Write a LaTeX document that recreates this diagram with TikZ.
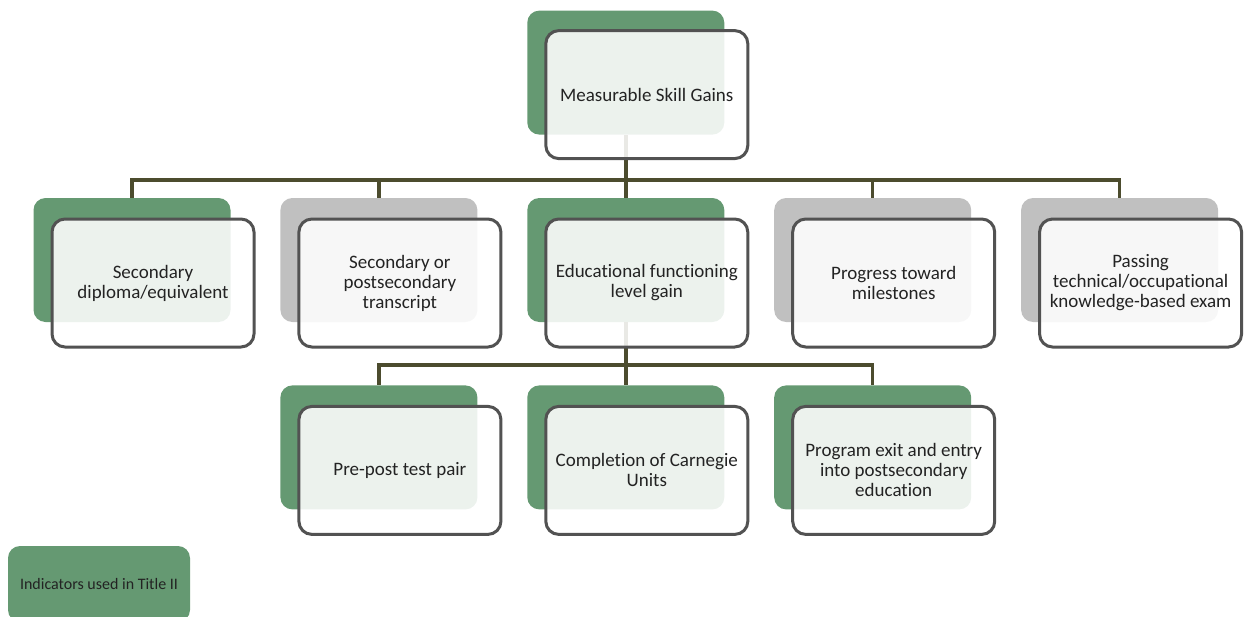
\documentclass[tikz,border=0pt]{standalone}
\usepackage{fontspec}
\setmainfont{Carlito}[Ligatures=CommonOff]
\usetikzlibrary{positioning}
\definecolor{msgreen}{RGB}{101,153,114}
\definecolor{msgray}{RGB}{192,192,192}
\definecolor{boxline}{RGB}{82,82,82}
\definecolor{linkcol}{RGB}{76,76,46}
\definecolor{txt}{RGB}{35,35,35}
\newcommand{\boxfont}{\fontsize{19}{20}\selectfont}
\newcommand{\legfont}{\fontsize{16}{18}\selectfont}

\begin{document}
\begin{tikzpicture}[x=1pt, y=-1pt, text=txt,
	back/.style={rectangle, rounded corners=12pt, minimum width=197pt, minimum height=124pt, inner sep=0pt},
	tg/.style={back, fill=msgreen}, tgray/.style={back, fill=msgray},
	front/.style={rectangle, rounded corners=13pt, draw=boxline, line width=3pt, fill=white, fill opacity=0.88, text opacity=1, minimum width=202pt, minimum height=128pt, align=center, font=\boxfont},
	link/.style={draw=linkcol, line width=3.5pt}]
	\useasboundingbox (0,0) rectangle (1248,616);
		% back plates
		\node[tg] (sec) at (132,260) {}; \node[tgray] (trans) [right=49.5pt of sec] {};
		\node[tg] (efl) [right=49.5pt of trans] {}; \node[tgray] (prog) [right=49.5pt of efl] {};
		\node[tgray] (exam) [right=49.5pt of prog] {};
		\node[tg] (msg) [above=63pt of efl] {};
		\node[tg] (pre) [below=63pt of trans] {}; \node[tg] (carn) [below=63pt of efl] {};
		\node[tg] (exit) [below=63pt of prog] {};
		% connectors
		\coordinate (bus1) at (msg.south |- 0,180); \coordinate (bus2) at (efl.south |- 0,365);
		\draw[link] (msg.south) -- (bus1);
		\foreach \c in {sec,trans,efl,prog,exam} \draw[link] (bus1) -| (\c.north);
		\draw[link] (efl.south) -- (bus2);
		\foreach \c in {pre,carn,exit} \draw[link] (bus2) -| (\c.north);
		% front boxes
		\node[front] (msgF) at ([shift={(21,22)}]msg.center) {Measurable Skill Gains};
		\node[front] (secF) at ([shift={(21,23)}]sec.center) {Secondary\\diploma/equivalent};
		\node[front] (transF) at ([shift={(21,23)}]trans.center) {Secondary or\\postsecondary\\transcript};
		\node[front] (eflF) at ([shift={(21,23)}]efl.center) {Educational functioning\\level gain};
		\node[front] (progF) at ([shift={(21,23)}]prog.center) {Progress toward\\milestones};
		\node[front] (examF) at ([shift={(21,23)}]exam.center) {Passing\\technical/occupational\\knowledge-based exam};
		\node[front] (preF) at ([shift={(21,23)}]pre.center) {Pre-post test pair};
		\node[front] (carnF) at ([shift={(21,23)}]carn.center) {Completion of Carnegie\\Units};
		\node[front] (exitF) at ([shift={(21,23)}]exit.center) {Program exit and entry\\into postsecondary\\education};
		% key
		\node[tg, minimum width=182pt, minimum height=76pt, font=\legfont] (key) at (99,584) {Indicators used in Title II};
	\end{tikzpicture}
\end{document}
